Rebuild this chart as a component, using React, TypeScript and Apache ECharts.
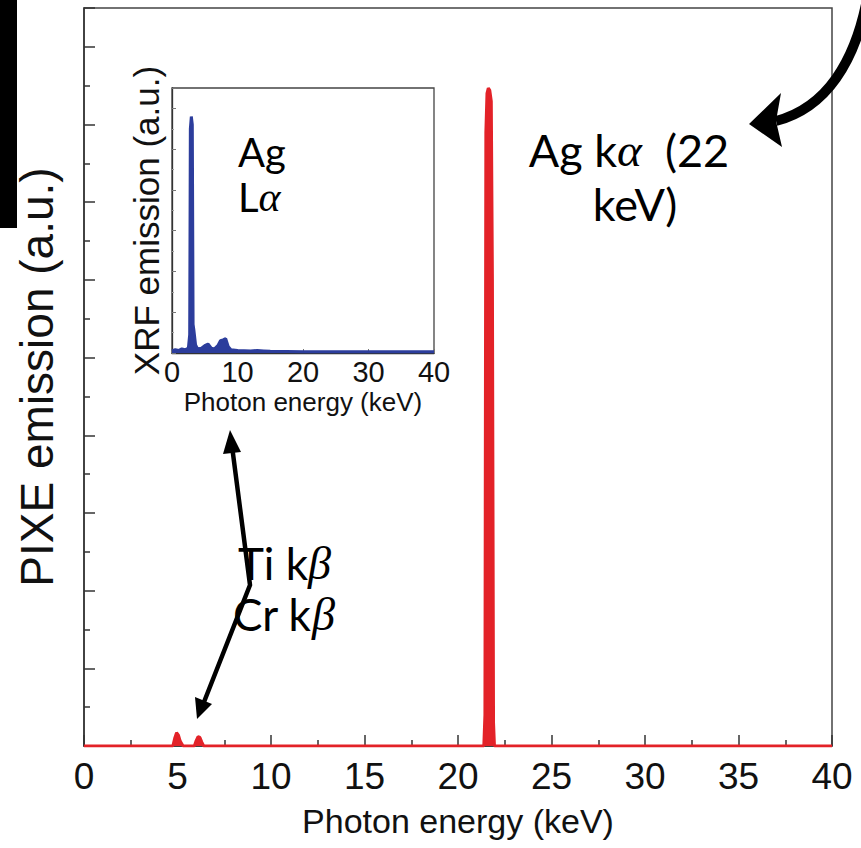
import React, { useEffect, useRef } from "react";
import * as echarts from "echarts";

// PIXE spectrum (main panel)
const pixeEnergy = [0, 4.75, 4.85, 4.95, 5.05, 5.15, 5.3, 5.9, 6.0, 6.1, 6.2, 6.3, 6.4, 21.38, 21.44, 21.49, 21.55, 21.62, 21.7, 21.78, 21.84, 21.9, 21.95, 40];
const pixeCounts = [0, 0, 0.1, 0.17, 0.14, 0.06, 0, 0, 0.07, 0.12, 0.11, 0.05, 0, 0, 0.4, 7.9, 8.4, 8.47, 8.44, 8.3, 6.0, 0.3, 0, 0];

// XRF spectrum (inset)
const xrfEnergy = [0, 0.5, 1.0, 1.5, 2.0, 2.5, 2.7, 2.8, 2.95, 3.1, 3.22, 3.35, 3.6, 3.9, 4.5, 5.0, 5.5, 6.0, 6.5, 7.0, 7.4, 7.8, 8.2, 8.6, 9.0, 10, 12, 13, 14, 15, 20, 30, 40];
const xrfCounts = [0.05, 0.08, 0.06, 0.1, 0.08, 0.12, 0.45, 5.5, 5.8, 5.6, 0.7, 0.55, 0.2, 0.1, 0.12, 0.18, 0.22, 0.12, 0.1, 0.18, 0.3, 0.32, 0.35, 0.15, 0.08, 0.06, 0.05, 0.06, 0.05, 0.04, 0.03, 0.03, 0.03];

// Axis settings
const mainXTicks = { min: 0, max: 40, interval: 5 };
const mainYTicks = { min: 0, max: 9.5, interval: 1 };
const insetXTicks = { min: 0, max: 40, interval: 10 };
const insetYTicks = { min: 0, max: 6.5, interval: 1 };

const SANS = "'Liberation Sans', Arial, sans-serif";
const HUMAN = "Lato, 'Open Sans', sans-serif";
const GREEK = "'Liberation Serif', 'DejaVu Serif', serif";

export default function App() {
  const ref = useRef<HTMLDivElement>(null);
  useEffect(() => {
    document.body.style.margin = "0";
    const chart = echarts.init(ref.current!, null, { renderer: "svg" });
    const red = "#e32228";
    const blue = "#2c3d9c";
    const axisColor = "#333";
    const rich = (size: number) => ({
      a: { fontFamily: HUMAN, fontSize: size, color: "#000" },
      b: { fontFamily: GREEK, fontStyle: "italic", fontSize: size * 1.05, color: "#000" },
    });
    chart.setOption({
      animation: false,
      backgroundColor: "#fff",
      grid: [
        { left: 84, top: 8, width: 748, height: 738, show: true, borderColor: "#444", borderWidth: 1.5, backgroundColor: "rgba(0,0,0,0)" },
        { left: 172, top: 88, width: 262, height: 265, show: true, borderColor: "#444", borderWidth: 1.3, backgroundColor: "#fff" },
      ],
      xAxis: [
        {
          type: "value", gridIndex: 0, ...mainXTicks,
          axisLine: { lineStyle: { color: axisColor, width: 1.5 } },
          axisTick: { inside: true, length: 11, lineStyle: { color: axisColor, width: 1.5 } },
          minorTick: { show: true, splitNumber: 2, length: 6, lineStyle: { color: axisColor, width: 1.5 } },
          splitLine: { show: false },
          axisLabel: { fontSize: 37, fontFamily: SANS, color: "#111", margin: 12 },
          name: "Photon energy (keV)", nameLocation: "middle", nameGap: 58,
          nameTextStyle: { fontSize: 34, fontFamily: SANS, color: "#111" },
        },
        {
          type: "value", gridIndex: 1, ...insetXTicks,
          axisLine: { lineStyle: { color: axisColor, width: 1.3 } },
          axisTick: { inside: true, length: 4, lineStyle: { color: "#777", width: 1 } },
          minorTick: { show: true, splitNumber: 2, length: 2, lineStyle: { color: "#999", width: 1 } },
          splitLine: { show: false },
          axisLabel: { fontSize: 29, fontFamily: SANS, color: "#111", margin: 4 },
          name: "Photon energy (keV)", nameLocation: "middle", nameGap: 36,
          nameTextStyle: { fontSize: 26, fontFamily: SANS, color: "#111" },
        },
      ],
      yAxis: [
        {
          type: "value", gridIndex: 0, ...mainYTicks,
          axisLine: { show: true, lineStyle: { color: axisColor, width: 1.5 } },
          axisTick: { show: true, inside: true, length: 11, lineStyle: { color: axisColor, width: 1.5 } },
          minorTick: { show: true, splitNumber: 2, length: 6, lineStyle: { color: axisColor, width: 1.5 } },
          splitLine: { show: false },
          axisLabel: { show: false },
          name: "PIXE emission (a.u.)", nameLocation: "middle", nameGap: 24,
          nameTextStyle: { fontSize: 46, fontFamily: SANS, color: "#111" },
        },
        {
          type: "value", gridIndex: 1, ...insetYTicks,
          axisLine: { show: true, lineStyle: { color: axisColor, width: 1.3 } },
          axisTick: { show: true, inside: true, length: 4, lineStyle: { color: "#777", width: 1 } },
          minorTick: { show: true, splitNumber: 2, length: 2, lineStyle: { color: "#999", width: 1 } },
          splitLine: { show: false },
          axisLabel: { show: false },
          name: "XRF emission (a.u.)", nameLocation: "middle", nameGap: 8,
          nameTextStyle: { fontSize: 35, fontFamily: SANS, color: "#111" },
        },
      ],
      series: [
        {
          type: "line", xAxisIndex: 0, yAxisIndex: 0,
          data: pixeEnergy.map((e, i) => [e, pixeCounts[i]]),
          showSymbol: false, smooth: false, z: 3,
          lineStyle: { color: red, width: 3 },
          areaStyle: { color: red, opacity: 1 },
        },
        {
          type: "line", xAxisIndex: 1, yAxisIndex: 1,
          data: xrfEnergy.map((e, i) => [e, xrfCounts[i]]),
          showSymbol: false, smooth: false, z: 3,
          lineStyle: { color: blue, width: 3 },
          areaStyle: { color: blue, opacity: 1 },
        },
      ],
      graphic: [
        { type: "rect", shape: { x: 0, y: 0, width: 17, height: 228 }, style: { fill: "#000" }, z: 10 },
        {
          type: "text", x: 238, y: 152, z: 10,
          style: { text: "{a|Ag}", rich: rich(40), align: "left", verticalAlign: "middle" },
        },
        {
          type: "text", x: 238, y: 197, z: 10,
          style: { text: "{a|L}{b|α}", rich: rich(40), align: "left", verticalAlign: "middle" },
        },
        {
          type: "text", x: 629, y: 150, z: 10,
          style: { text: "{a|Ag k}{b|α}{a|  (22}", rich: rich(45), align: "center", verticalAlign: "middle" },
        },
        {
          type: "text", x: 635, y: 204, z: 10,
          style: { text: "{a|keV)}", rich: rich(45), align: "center", verticalAlign: "middle" },
        },
        {
          type: "text", x: 238, y: 563, z: 10,
          style: { text: "{a|Ti k}{b|β}", rich: rich(44), align: "left", verticalAlign: "middle" },
        },
        {
          type: "text", x: 233, y: 614, z: 10,
          style: { text: "{a|Cr k}{b|β}", rich: rich(44), align: "left", verticalAlign: "middle" },
        },
        // curved arrow to Ag k-alpha
        {
          type: "bezierCurve", z: 11,
          shape: { x1: 868, y1: -6, cpx1: 856, cpy1: 62, cpx2: 826, cpy2: 108, x2: 776, y2: 121 },
          style: { stroke: "#000", lineWidth: 10, fill: "none" },
        },
        {
          type: "polygon", z: 11,
          shape: { points: [[749, 124], [781, 93], [776, 121], [782, 147]] },
          style: { fill: "#000" },
        },
        // Ti/Cr arrows
        {
          type: "polyline", z: 11,
          shape: { points: [[232, 446], [250, 585], [204, 702]] },
          style: { stroke: "#000", lineWidth: 4.5, fill: "none" },
        },
        {
          type: "polygon", z: 11,
          shape: { points: [[230, 430], [241, 452], [223, 454]] },
          style: { fill: "#000" },
        },
        {
          type: "polygon", z: 11,
          shape: { points: [[197, 719], [195, 697], [212, 704]] },
          style: { fill: "#000" },
        },
      ],
    });
    return () => chart.dispose();
  }, []);
  return <div ref={ref} style={{ width: 861, height: 848 }} />;
}
